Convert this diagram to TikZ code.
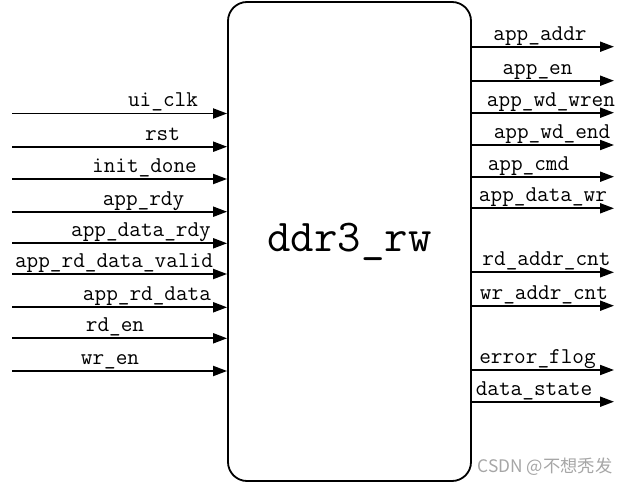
\documentclass[tikz,border=0pt]{standalone}
\usepackage{fontspec}
\newfontfamily\cjkwm{Noto Sans CJK SC}
\usetikzlibrary{arrows.meta}
\tikzset{
  sig/.style={line width=1.9pt, -{Triangle[length=14pt,width=10pt]}},
  lbl/.style={font=\ttfamily\fontsize{22.6}{24}\selectfont, inner sep=0pt, anchor=base},
  blkstyle/.style={draw, line width=1.8pt, rounded corners=19pt, minimum width=243pt, minimum height=479pt, inner sep=0pt, font=\ttfamily\fontsize{45.5}{50}\selectfont},
  wm/.style={font=\cjkwm\fontsize{17.3}{19}\selectfont, text=black!35, inner sep=0pt}
}
\begin{document}
\begin{tikzpicture}[x=1pt,y=-1pt]
\useasboundingbox (0,0) rectangle (629,484);
\node[blkstyle] (blk) at (349.5,241.5) {ddr3\_rw};
% inputs
\foreach \n/\y/\cx/\t in {i1/113.5/163/ui\_clk, i2/146.7/162.5/rst, i3/179/144.5/init\_done, i4/211.7/143.5/app\_rdy, i5/243.3/141/app\_data\_rdy, i6/274/114/app\_rd\_data\_valid, i7/307.3/147/app\_rd\_data, i8/338.3/115/rd\_en, i9/371/110/wr\_en}{
  \coordinate (\n) at (12,\y);
  \draw[sig] (\n) -- (\n -| blk.west);
  \node[lbl] (t\n) at (\cx,\y-6.5) {\t};
}
% outputs
\foreach \n/\y/\cx/\t in {o1/46.7/540/app\_addr, o2/80.7/537.5/app\_en, o3/112.7/551/app\_wd\_wren, o4/145/552/app\_wd\_end, o5/176.7/528.5/app\_cmd, o6/208.3/543/app\_data\_wr, o7/272.3/546.5/rd\_addr\_cnt, o8/305.7/544/wr\_addr\_cnt, o9/370/537.5/error\_flog, o10/401.7/534/data\_state}{
  \coordinate (\n) at (614,\y);
  \draw[sig] (\n -| blk.east) -- (\n);
  \node[lbl] (t\n) at (\cx,\y-6.5) {\t};
}
\node[wm] (wmk) at (545,466.5) {CSDN @不想秃发};
\end{tikzpicture}
\end{document}
